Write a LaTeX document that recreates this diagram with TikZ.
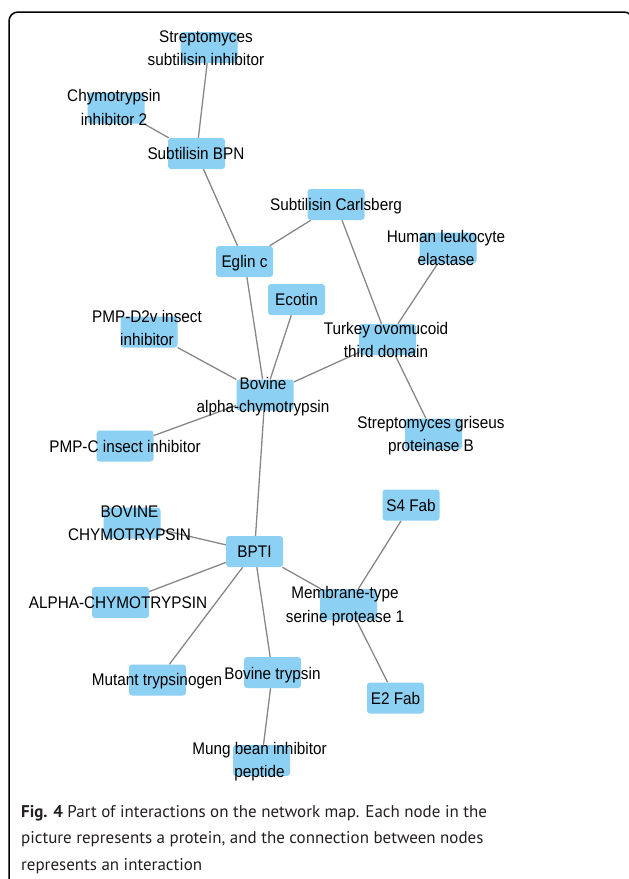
\documentclass[tikz,border=0pt]{standalone}
\usepackage{fontspec}
\setmainfont{Liberation Sans}
\newfontfamily\capfont{PT Sans}
\usetikzlibrary{backgrounds}
\definecolor{boxblue}{RGB}{140,208,243}
\definecolor{edgegray}{RGB}{135,135,135}
\definecolor{captext}{RGB}{35,31,32}
\newcommand\pn[4]{\node[pbox] (#1) at (#2) {}; \node[plabel] (#1-t) at (#3) {\scalebox{1}[1.1]{\begin{tabular}{@{}c@{}}#4\end{tabular}}};}
\begin{document}
\begin{tikzpicture}[x=1pt,y=-1pt,
  pbox/.style={fill=boxblue, rounded corners=3pt, minimum width=57pt, minimum height=31pt, inner sep=0pt},
  plabel/.style={font=\fontsize{15.3}{21.8}\selectfont, inner sep=0pt, text=black, yshift=-1.2pt},
  edge/.style={draw=edgegray, line width=1.3pt},
  capline/.style={anchor=base west, inner sep=0pt, text=captext, font=\capfont\fontsize{16.95}{21}\selectfont}]
\useasboundingbox (0,0) rectangle (629,879);
\begin{scope}
\clip (0,0) rectangle (629,879);
\draw[line width=1.5pt, rounded corners=9pt] (9,12) rectangle (633,910);
\end{scope}

\pn{ssi}{209,47.5}{206,48}{Streptomyces\\subtilisin inhibitor}
\pn{ci2}{116,108}{114,107.5}{Chymotrypsin\\inhibitor 2}
\pn{bpn}{196.5,153.5}{196,153}{Subtilisin BPN}
\pn{carls}{336,204.5}{336,204}{Subtilisin Carlsberg}
\pn{hle}{448,248}{446,248}{Human leukocyte\\elastase}
\pn{eglin}{244.5,261.5}{244.5,261}{Eglin c}
\pn{ecotin}{296.5,299.5}{296.5,299}{Ecotin}
\pn{pmpd}{149,332}{147,328}{PMP-D2v insect\\inhibitor}
\pn{turkey}{387.5,339.5}{386,340}{Turkey ovomucoid\\third domain}
\pn{bac}{265,395}{263,395}{Bovine\\alpha-chymotrypsin}
\pn{pmpc}{125,446}{125,446}{PMP-C insect inhibitor}
\pn{sgpb}{433.5,434}{431,434}{Streptomyces griseus\\proteinase B}
\pn{s4}{411,505}{411,505}{S4 Fab}
\pn{bchy}{132,523}{129.5,523}{BOVINE\\CHYMOTRYPSIN}
\pn{bpti}{254.5,551.5}{254.5,551.5}{BPTI}
\pn{achy}{120.5,602.5}{118,602.5}{ALPHA-CHYMOTRYPSIN}
\pn{mt}{348.5,604.5}{345,604.5}{Membrane-type\\serine protease 1}
\pn{mut}{157.5,680}{157,679}{Mutant trypsinogen}
\pn{btryp}{272.5,672.5}{272.5,673}{Bovine trypsin}
\pn{e2}{395.5,698}{395.5,698}{E2 Fab}
\pn{mung}{261.5,760.5}{259.5,760}{Mung bean inhibitor\\peptide}

\begin{scope}[on background layer]
\draw[edge] (ssi) -- (bpn);
\draw[edge] (ci2) -- (bpn);
\draw[edge] (bpn) -- (eglin);
\draw[edge] (eglin) -- (carls);
\draw[edge] (carls) -- (turkey);
\draw[edge] (hle) -- (turkey);
\draw[edge] (eglin) -- (bac);
\draw[edge] (ecotin) -- (bac);
\draw[edge] (pmpd) -- (bac);
\draw[edge] (turkey) -- (bac);
\draw[edge] (turkey) -- (sgpb);
\draw[edge] (pmpc) -- (bac);
\draw[edge] (bac) -- (bpti);
\draw[edge] (bchy) -- (bpti);
\draw[edge] (bpti) -- (achy);
\draw[edge] (bpti) -- (mut);
\draw[edge] (bpti) -- (btryp);
\draw[edge] (bpti) -- (mt);
\draw[edge] (s4) -- (mt);
\draw[edge] (mt) -- (e2);
\draw[edge] (btryp) -- (mung);
\end{scope}

\node[capline] (cap1) at (21,817) {\textbf{Fig. 4} Part of interactions on the network map. Each node in the};
\node[capline] (cap2) at (21,843.5) {picture represents a protein, and the connection between nodes};
\node[capline] (cap3) at (21,870) {represents an interaction};
\end{tikzpicture}
\end{document}
